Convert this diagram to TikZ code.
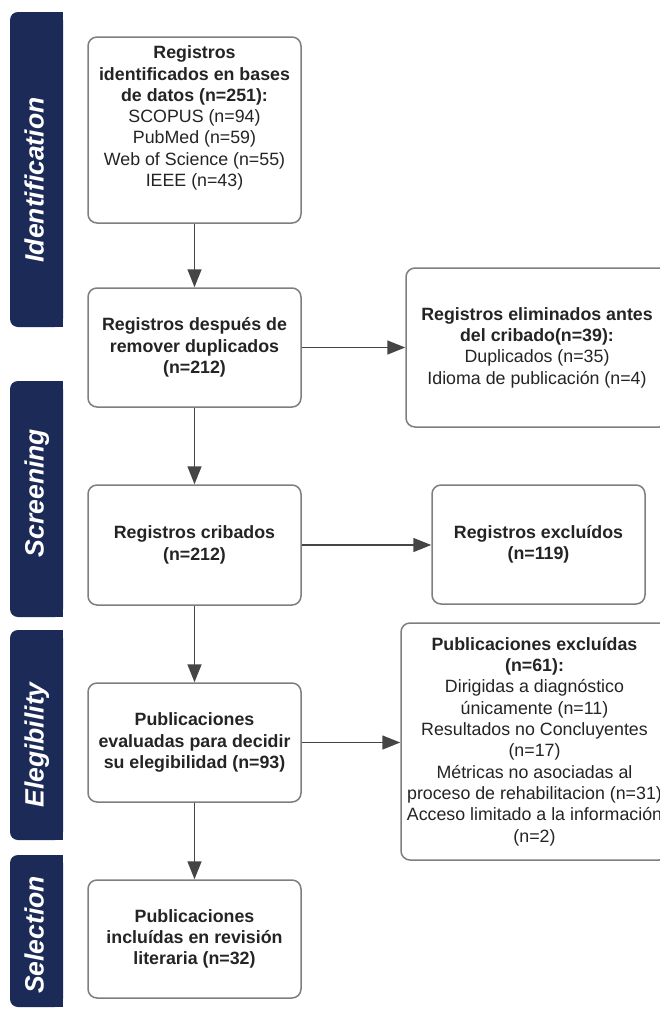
\documentclass[tikz,border=0pt]{standalone}
\usepackage{fontspec}
\setmainfont{Liberation Sans}
\usetikzlibrary{arrows.meta}
\definecolor{cnavy}{HTML}{1B2A57}
\definecolor{cline}{HTML}{7E7E7E}
\definecolor{carrow}{HTML}{454545}
\definecolor{ctext}{HTML}{242424}
\newcommand{\boxfont}{\fontsize{17.8}{21.3}\selectfont}
\newcommand{\bandfont}{\fontsize{26.5}{29}\selectfont\bfseries\itshape}
\tikzset{
  every picture/.style={line width=1.5pt},
  box/.style={draw=cline, fill=white, rounded corners=9pt, align=center, inner sep=2pt,
    text=ctext, font=\boxfont\bfseries, minimum width=#1},
  box/.default=213,
  arrow/.style={-{Triangle[length=18pt, width=14pt]}, draw=carrow, line width=1.5pt},
  bandlbl/.style={text=white, font=\bandfont, rotate=90, inner sep=0pt, text height=19pt, text depth=5pt},
}

\begin{document}
\begin{tikzpicture}[x=1pt, y=-1pt]
  \useasboundingbox (0,0) rectangle (659,1009);
  % phase bands on the left
  \foreach \yt/\yb/\yc/\lbl [count=\k] in {12/327/180/Identification, 381/617/493/Screening,
      630/840/745/Elegibility, 855/1007/935/Selection} {
    \fill[cnavy] (36,\yt) rectangle (63,\yb);
    \fill[cnavy, rounded corners=8pt] (10,\yt) rectangle (63,\yb);
    \node[bandlbl] (band\k) at (36.5,\yc) {\lbl};
  }
  % main column
  \node[box, minimum height=186] (reg) at (194.5,130) {Registros\\ identificados en bases\\ de datos (n=251):\\
    \textmd{SCOPUS (n=94)}\\ \textmd{PubMed (n=59)}\\ \textmd{Web of Science (n=55)}\\ \textmd{IEEE (n=43)}\\ \strut};
  \node[box, minimum height=119] (dup) at (194.5,347.5) {Registros después de\\ remover duplicados\\ (n=212)};
  \node[box, minimum height=120] (crib) at (194.5,545) {Registros cribados\\ (n=212)};
  \node[box, minimum height=119] (eval) at (194.5,742.5) {Publicaciones\\ evaluadas para decidir\\ su elegibilidad (n=93)};
  \node[box, minimum height=118] (incl) at (194.5,939) {Publicaciones\\ incluídas en revisión\\ literaria (n=32)};
  % excluded records
  \node[box=262, minimum height=159] (elim) at (537,347.5) {Registros eliminados antes\\ del cribado(n=39):\\
    \textmd{Duplicados (n=35)}\\ \textmd{Idioma de publicación (n=4)}};
  \node[box, minimum height=119] (excl) at (538.5,544.5) {Registros excluídos\\ (n=119)};
  \node[box=267, minimum height=237] (pexcl) at (534.5,741.5) {Publicaciones excluídas\\ (n=61):\\
    \textmd{Dirigidas a diagnóstico}\\ \textmd{únicamente (n=11)}\\ \textmd{Resultados no Concluyentes}\\ \textmd{(n=17)}\\
    \textmd{Métricas no asociadas al}\\ \textmd{proceso de rehabilitacion (n=31)}\\ \textmd{Acceso limitado a la información}\\ \textmd{(n=2)}};
  \foreach \a/\b in {reg/dup, dup/crib, crib/eval, eval/incl} \draw[arrow] (\a) -- (\b);
  \foreach \a/\b in {dup/elim, crib/excl, eval/pexcl} \draw[arrow] (\a.east) -- (\a.east -| \b.west);
\end{tikzpicture}
\end{document}
